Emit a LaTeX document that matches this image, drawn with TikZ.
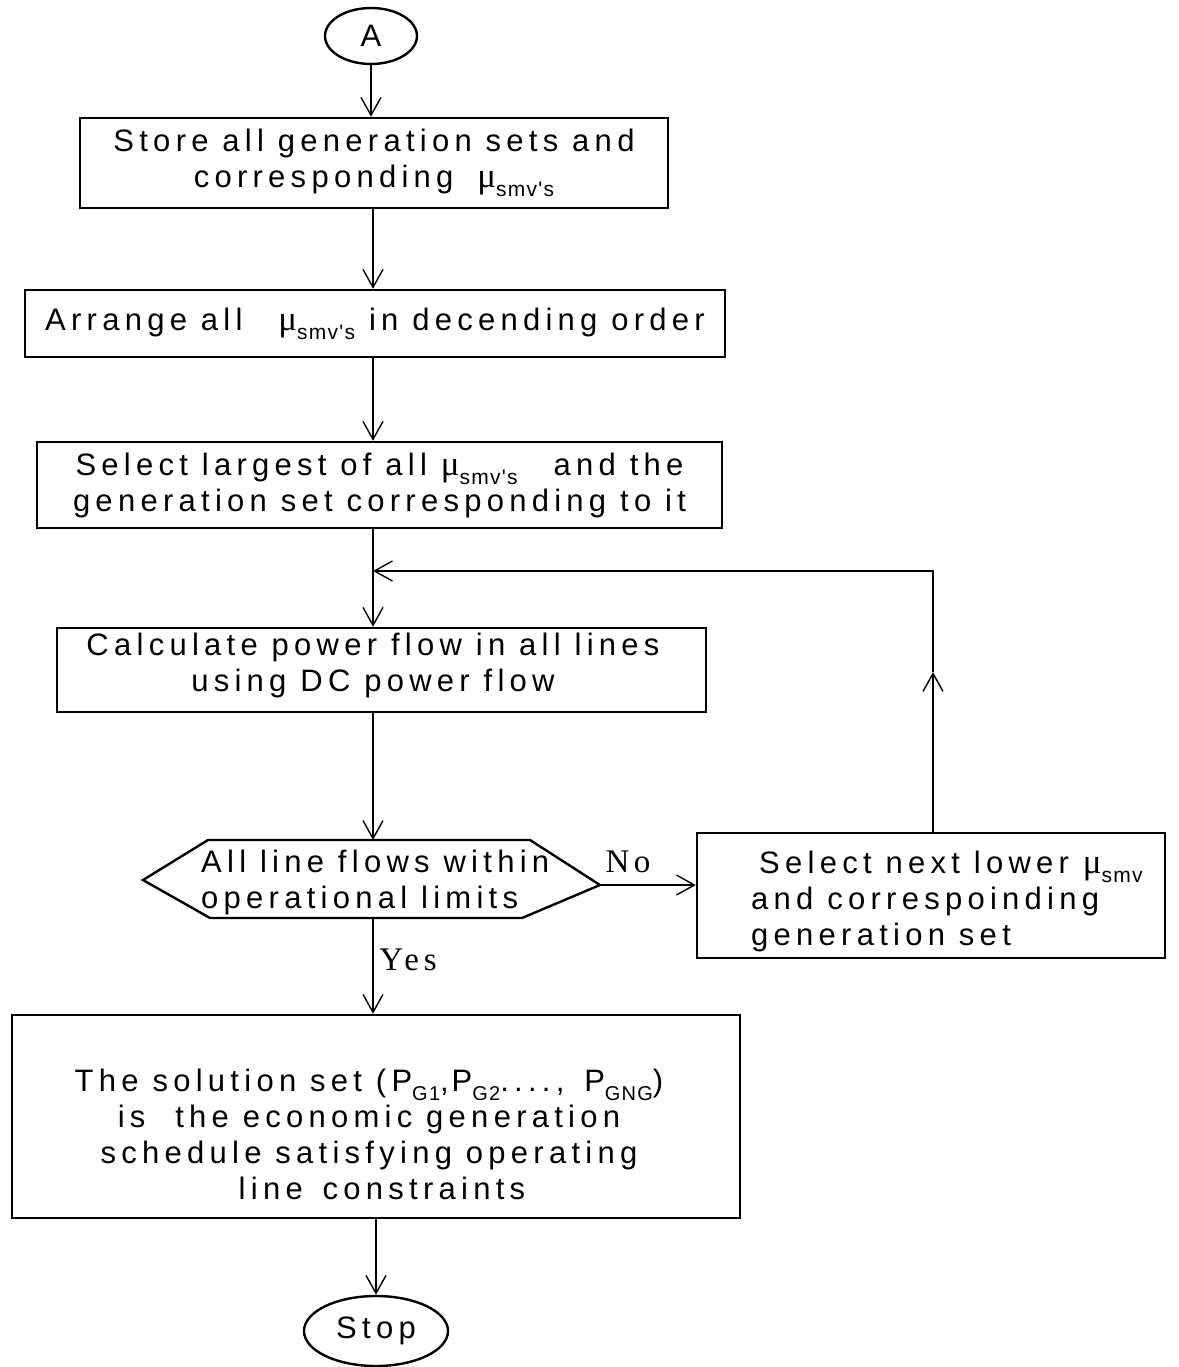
\documentclass[tikz,border=0pt]{standalone}
\usepackage{fontspec}
\setmainfont{Liberation Sans}[LetterSpace=17]
\newfontfamily\symfont{Liberation Serif}
\newfontfamily\subfont{Liberation Sans}[LetterSpace=6]
\newfontfamily\labfont{Liberation Serif}[LetterSpace=14]
\usetikzlibrary{arrows.meta,shapes.geometric}
% subscripted symbols: mu and P with a small lowered index
\newcommand\subtxt[2]{\raisebox{-9bp}{\subfont\fontsize{#1}{#1}\selectfont #2}}
\newcommand\musub[1]{{\symfont\fontsize{35bp}{35bp}\selectfont μ}\subtxt{21bp}{#1}}
\newcommand\psub[1]{P\subtxt{20bp}{#1}}
\begin{document}
\begin{tikzpicture}[x=1bp,y=-1bp,
  every node/.style={font=\fontsize{31bp}{36bp}\selectfont},
  box/.style={draw, line width=2.4bp, align=center, inner sep=0pt},
  term/.style={draw, ellipse, line width=2.4bp, inner sep=0pt},
  arr/.style={line width=2.4bp, -{Straight Barb[length=18bp,width=20bp,line width=1.4bp]}},
  flow/.style={line width=2.4bp},
  lab/.style={font=\labfont\fontsize{33bp}{36bp}\selectfont}]
\useasboundingbox (0,0) rectangle (1178,1367);

% main column
\coordinate (sp) at (373,0);
\node[term, minimum width=92bp, minimum height=56bp] (A) at (371,36) {A};
\node[box, minimum width=588bp, minimum height=90bp] (b1) at (374,163)
  {Store all generation sets and\\corresponding\hspace{10bp} \musub{smv's}};
\node[box, minimum width=700bp, minimum height=67bp] (b2) at (375,323.5)
  {Arrange all\hspace{22bp} \musub{smv's} in decending order};
\node[box, minimum width=685bp, minimum height=86bp] (b3) at (379.5,485)
  {Select largest of all \musub{smv's}\hspace{22bp} and the\\generation set corresponding to it};
\node[box, minimum width=649bp, minimum height=84bp] (b4) at (381.5,670) {};
\node[align=center, inner sep=0pt] (b4t) at (373,665)
  {Calculate power flow in all lines\\using DC power flow};

% decision hexagon
\coordinate (hL) at (143,880);
\coordinate (hTL) at (208,840);
\coordinate (hTR) at (530,840);
\coordinate (hR) at (600,885);
\coordinate (hBR) at (522,918);
\coordinate (hBL) at (210,918);
\coordinate (hT) at (373,840);
\coordinate (hB) at (373,918);
\draw[flow] (hL) -- (hTL) -- (hTR) -- (hR) -- (hBR) -- (hBL) -- cycle;
\node[anchor=west, align=left, inner sep=0pt] (dec) at (201,882)
  {All line flows within\\operational limits};

% side box
\node[box, minimum width=468bp, minimum height=125bp] (b5) at (931,895.5) {};
\node[anchor=west, align=left, inner sep=0pt] (b5t) at (751,901)
  {\hspace{8bp}Select next lower \musub{smv}\\and correspoinding\\generation set};

% result and stop
\node[box, minimum width=728bp, minimum height=203bp] (b6) at (376,1116.5) {};
\node[align=center, inner sep=0pt] (b6t) at (369,1134)
  {The solution set (\psub{G1},\hspace{3bp}\psub{G2}....,\hspace{6bp} \psub{GNG})\\is\hspace{16bp} the economic generation\\schedule satisfying operating\\\hspace*{26bp}line\hspace{6bp} constraints};
\node[term, minimum width=144bp, minimum height=70bp] (stop) at (376,1331) {Stop};

% labels
\node[lab] (no) at (628,862) {No};
\node[lab] (yes) at (408,960) {Yes};

% connectors
\coordinate (jn) at (373,571);
\coordinate (lc) at (933,571);
\coordinate (lmid) at (933,672);
\draw[arr] (A) -- (b1.north -| A);
\draw[arr] (b1.south -| sp) -- (b2.north -| sp);
\draw[arr] (b2.south -| sp) -- (b3.north -| sp);
\draw[flow] (b3.south -| sp) -- (jn);
\draw[arr] (jn) -- (b4.north -| sp);
\draw[arr] (b4.south -| sp) -- (hT);
\draw[arr] (hR) -- (hR -| b5.west);
\draw[arr] (b5.north -| lc) -- (lmid);
\draw[arr] (lmid) -- (lc) -- (jn);
\draw[arr] (hB) -- (b6.north -| sp);
\draw[arr] (b6.south -| stop) -- (stop.north);
\end{tikzpicture}
\end{document}
